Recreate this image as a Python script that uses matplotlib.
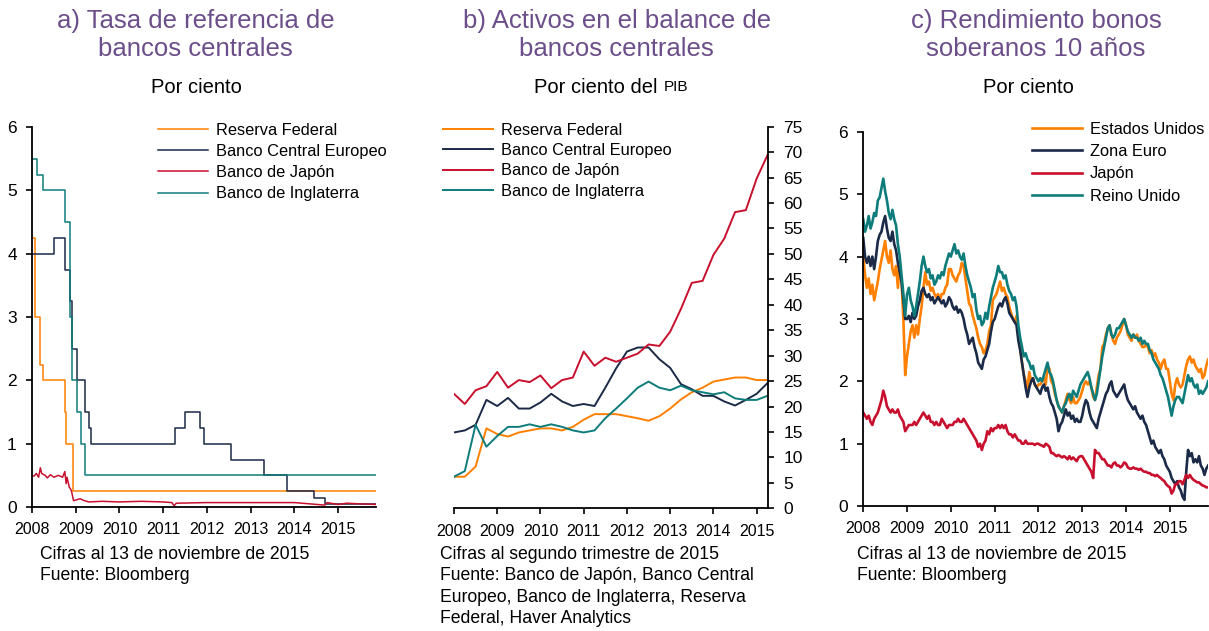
import numpy as np
import matplotlib
matplotlib.use('Agg')
import matplotlib.pyplot as plt

plt.rcParams['font.family'] = ['Liberation Sans', 'DejaVu Sans']

NARANJA = '#FF8000'
AZUL = '#1B2A47'
ROJO = '#C8102E'
VERDE = '#0E7C7B'
MORADO = '#6B4E8A'

# a) tasas de referencia (cambios de nivel, fecha decimal)
fed_t = [2008.0, 2008.06, 2008.18, 2008.25, 2008.76, 2008.78, 2008.93, 2015.87]
fed_v = [4.25, 3.0, 2.25, 2.0, 1.5, 1.0, 0.25, 0.25]
bce_t = [2008.0, 2008.5, 2008.76, 2008.86, 2008.92, 2009.02, 2009.21, 2009.3, 2009.34,
         2011.28, 2011.51, 2011.84, 2011.93, 2012.55, 2013.3, 2013.37, 2013.84,
         2014.44, 2014.71, 2015.87]
bce_v = [4.0, 4.25, 3.75, 3.25, 2.5, 2.0, 1.5, 1.25, 1.0,
         1.25, 1.5, 1.25, 1.0, 0.75, 0.5, 0.5, 0.25,
         0.15, 0.05, 0.05]
boe_t = [2008.0, 2008.12, 2008.25, 2008.76, 2008.86, 2008.92, 2009.02, 2009.12, 2009.21, 2015.87]
boe_v = [5.5, 5.25, 5.0, 4.5, 3.0, 2.0, 1.5, 1.0, 0.5, 0.5]
boj_t = [2008.0, 2008.05, 2008.1, 2008.15, 2008.19, 2008.22, 2008.3, 2008.35, 2008.42,
         2008.5, 2008.6, 2008.7, 2008.75, 2008.78, 2008.8, 2008.85, 2008.9, 2008.95,
         2009.1, 2009.2, 2009.3, 2009.6, 2010.0, 2010.5, 2011.0, 2011.2, 2011.25,
         2011.3, 2012.0, 2013.0, 2014.0, 2014.7, 2014.75, 2015.0, 2015.2, 2015.5, 2015.87]
boj_v = [0.49, 0.49, 0.53, 0.47, 0.62, 0.53, 0.5, 0.46, 0.51,
         0.47, 0.5, 0.47, 0.56, 0.37, 0.47, 0.32, 0.26, 0.1,
         0.13, 0.1, 0.08, 0.09, 0.08, 0.09, 0.08, 0.07, 0.02,
         0.06, 0.07, 0.07, 0.07, 0.03, 0.07, 0.04, 0.06, 0.05, 0.04]

# b) activos, trimestral 2008T1 - 2015T2
trimestres = 2008 + np.arange(30) / 4
jap_b = [22.5, 20.5, 23.2, 24.0, 26.8, 23.7, 25.2, 24.8, 26.1, 23.6,
         25.2, 25.7, 30.8, 28.0, 29.6, 28.8, 29.6, 30.4, 32.2, 31.9,
         34.7, 39.2, 44.3, 44.7, 49.8, 53.0, 58.2, 58.6, 64.8, 69.4]
bce_b = [14.9, 15.3, 16.4, 21.3, 20.1, 21.7, 19.6, 19.6, 20.8, 22.5,
         21.0, 20.1, 20.5, 20.1, 23.7, 27.5, 30.8, 31.6, 31.6, 29.3,
         27.6, 24.4, 23.4, 22.1, 22.1, 21.0, 20.2, 21.3, 22.5, 24.6]
fed_b = [6.2, 6.2, 8.2, 15.7, 14.6, 14.1, 14.9, 15.3, 15.7, 15.7,
         15.3, 16.0, 17.4, 18.5, 18.5, 18.5, 18.1, 17.7, 17.2, 18.1,
         19.6, 21.4, 22.8, 23.7, 24.9, 25.3, 25.7, 25.7, 25.2, 25.2]
boe_b = [6.2, 7.3, 16.4, 12.1, 14.2, 16.0, 16.0, 16.5, 16.0, 16.5,
         16.0, 15.3, 14.9, 15.3, 17.7, 19.6, 21.6, 23.7, 24.9, 23.7,
         23.2, 24.1, 23.2, 22.8, 22.4, 22.8, 21.6, 21.3, 21.3, 22.1]

# c) bonos a 10 años, valores cada medio mes desde ene-2008
quincenas = 2008 + np.arange(190) / 24
eeuu_c = [4.0, 3.7, 3.5, 3.65, 3.4, 3.55, 3.3, 3.45, 3.6, 3.8, 3.95, 4.1,
          4.25, 4.0, 3.9, 4.1, 3.8, 3.7, 3.85, 3.5, 3.9, 3.6, 3.0, 2.1,
          2.4, 2.6, 2.8, 2.9, 2.7, 2.9, 2.75, 3.0, 3.2, 3.5, 3.75, 3.55,
          3.6, 3.45, 3.5, 3.4, 3.35, 3.4, 3.3, 3.4, 3.4, 3.5, 3.55, 3.8,
          3.8, 3.7, 3.65, 3.6, 3.7, 3.75, 3.9, 3.85, 3.65, 3.45, 3.25, 3.2,
          3.05, 2.95, 2.85, 2.7, 2.6, 2.55, 2.45, 2.5, 2.6, 2.8, 2.9, 3.3,
          3.35, 3.4, 3.5, 3.6, 3.45, 3.5, 3.4, 3.35, 3.2, 3.1, 3.0, 2.95,
          3.05, 2.8, 2.55, 2.3, 2.1, 2.0, 1.9, 2.15, 2.0, 2.05, 1.95, 1.9,
          1.95, 1.95, 2.0, 2.05, 1.95, 2.25, 2.2, 2.0, 1.95, 1.8, 1.7, 1.6,
          1.55, 1.5, 1.6, 1.7, 1.8, 1.7, 1.65, 1.75, 1.65, 1.65, 1.7, 1.75,
          1.85, 1.95, 2.0, 1.95, 2.0, 1.9, 1.75, 1.7, 1.9, 2.1, 2.2, 2.55,
          2.6, 2.75, 2.85, 2.9, 2.75, 2.65, 2.6, 2.7, 2.75, 2.8, 2.9, 3.0,
          2.9, 2.75, 2.7, 2.65, 2.75, 2.7, 2.75, 2.65, 2.6, 2.55, 2.55, 2.6,
          2.55, 2.45, 2.5, 2.4, 2.45, 2.35, 2.3, 2.2, 2.3, 2.35, 2.2, 2.2,
          2.0, 1.8, 1.7, 1.95, 2.05, 1.95, 1.9, 1.95, 2.1, 2.25, 2.35, 2.4,
          2.3, 2.35, 2.25, 2.2, 2.15, 2.2, 2.05, 2.1, 2.25, 2.35]
euro_c = [4.3, 4.0, 3.9, 4.0, 3.85, 4.0, 3.8, 4.0, 4.25, 4.35, 4.4, 4.55,
          4.65, 4.45, 4.3, 4.25, 4.4, 4.2, 4.1, 3.9, 3.75, 3.6, 3.3, 3.0,
          3.0, 3.05, 2.95, 3.1, 3.0, 3.05, 3.2, 3.3, 3.45, 3.5, 3.4, 3.35,
          3.4, 3.3, 3.35, 3.25, 3.3, 3.35, 3.3, 3.25, 3.3, 3.2, 3.25, 3.35,
          3.3, 3.2, 3.15, 3.2, 3.1, 3.15, 3.1, 3.0, 2.85, 2.75, 2.6, 2.65,
          2.7, 2.55, 2.45, 2.3, 2.25, 2.2, 2.35, 2.4, 2.5, 2.6, 2.8, 2.95,
          3.0, 3.1, 3.2, 3.25, 3.2, 3.3, 3.35, 3.25, 3.1, 3.05, 3.0, 2.95,
          2.9, 2.65, 2.5, 2.3, 2.1, 1.9, 1.75, 1.9, 2.0, 2.05, 1.95, 1.9,
          1.85, 1.8, 1.9, 1.95, 1.85, 1.9, 1.75, 1.65, 1.6, 1.5, 1.4, 1.2,
          1.3, 1.35, 1.45, 1.55, 1.45, 1.5, 1.4, 1.45, 1.35, 1.4, 1.35, 1.35,
          1.45, 1.6, 1.7, 1.65, 1.5, 1.4, 1.35, 1.3, 1.25, 1.4, 1.5, 1.6,
          1.7, 1.8, 1.85, 1.95, 2.0, 1.85, 1.8, 1.75, 1.8, 1.85, 1.9, 1.95,
          1.8, 1.7, 1.65, 1.6, 1.55, 1.6, 1.5, 1.45, 1.4, 1.45, 1.35, 1.3,
          1.2, 1.1, 1.0, 1.05, 0.95, 0.9, 0.85, 0.9, 0.8, 0.75, 0.65, 0.6,
          0.55, 0.45, 0.4, 0.35, 0.4, 0.3, 0.25, 0.15, 0.1, 0.55, 0.9, 0.8,
          0.85, 0.7, 0.75, 0.7, 0.8, 0.65, 0.6, 0.5, 0.6, 0.65]
japon_c = [1.5, 1.45, 1.4, 1.45, 1.35, 1.3, 1.4, 1.45, 1.5, 1.6, 1.7, 1.85,
           1.75, 1.6, 1.55, 1.5, 1.55, 1.5, 1.5, 1.55, 1.45, 1.4, 1.35, 1.2,
           1.25, 1.3, 1.3, 1.3, 1.35, 1.3, 1.35, 1.4, 1.45, 1.5, 1.45, 1.4,
           1.45, 1.35, 1.35, 1.3, 1.35, 1.3, 1.3, 1.4, 1.35, 1.3, 1.25, 1.3,
           1.3, 1.3, 1.35, 1.35, 1.4, 1.35, 1.35, 1.4, 1.35, 1.3, 1.25, 1.2,
           1.15, 1.1, 1.05, 0.95, 1.0, 0.9, 1.0, 1.05, 1.2, 1.15, 1.25, 1.2,
           1.25, 1.25, 1.3, 1.25, 1.3, 1.25, 1.3, 1.2, 1.15, 1.15, 1.1, 1.15,
           1.1, 1.05, 1.05, 1.0, 1.0, 1.05, 1.0, 1.0, 1.0, 1.0, 0.98, 1.0,
           1.0, 0.98, 0.97, 0.95, 1.0, 0.98, 0.95, 0.85, 0.85, 0.82, 0.8, 0.82,
           0.8, 0.78, 0.8, 0.78, 0.75, 0.8, 0.75, 0.78, 0.75, 0.72, 0.78, 0.8,
           0.8, 0.75, 0.7, 0.65, 0.6, 0.55, 0.45, 0.9, 0.85, 0.85, 0.8, 0.75,
           0.75, 0.7, 0.65, 0.65, 0.62, 0.68, 0.7, 0.65, 0.65, 0.62, 0.65, 0.7,
           0.68, 0.62, 0.6, 0.6, 0.62, 0.6, 0.6, 0.58, 0.6, 0.57, 0.55, 0.55,
           0.53, 0.53, 0.5, 0.5, 0.48, 0.5, 0.47, 0.45, 0.42, 0.4, 0.35, 0.32,
           0.3, 0.2, 0.25, 0.35, 0.35, 0.4, 0.4, 0.35, 0.42, 0.5, 0.45, 0.5,
           0.45, 0.42, 0.4, 0.38, 0.38, 0.35, 0.33, 0.32, 0.3, 0.3]
ru_c = [4.6, 4.4, 4.5, 4.65, 4.45, 4.55, 4.7, 4.65, 4.9, 4.95, 5.1, 5.25,
        5.05, 4.9, 4.7, 4.6, 4.75, 4.6, 4.5, 4.2, 4.0, 3.7, 3.4, 3.05,
        3.4, 3.5, 3.3, 3.2, 3.05, 3.2, 3.4, 3.6, 3.85, 4.0, 3.85, 3.75,
        3.8, 3.65, 3.7, 3.55, 3.6, 3.7, 3.65, 3.75, 3.7, 3.85, 3.95, 4.05,
        4.0, 4.1, 4.2, 4.05, 4.1, 4.0, 3.95, 4.05, 3.85, 3.7, 3.6, 3.5,
        3.35, 3.4, 3.15, 3.0, 3.05, 2.9, 2.95, 3.1, 3.0, 3.2, 3.35, 3.5,
        3.6, 3.7, 3.85, 3.75, 3.75, 3.65, 3.7, 3.55, 3.45, 3.4, 3.3, 3.35,
        3.2, 2.9, 2.7, 2.55, 2.4, 2.45, 2.35, 2.3, 2.2, 2.25, 2.1, 2.05,
        2.0, 2.05, 2.0, 2.1, 2.2, 2.3, 2.15, 2.1, 2.0, 1.85, 1.7, 1.6,
        1.55, 1.5, 1.6, 1.65, 1.75, 1.8, 1.7, 1.85, 1.8, 1.75, 1.85, 1.95,
        2.0, 2.05, 2.1, 2.15, 2.05, 1.9, 1.8, 1.7, 1.8, 2.0, 2.2, 2.4,
        2.55, 2.7, 2.85, 2.9, 2.75, 2.7, 2.75, 2.85, 2.85, 2.9, 2.95, 3.0,
        2.9, 2.8, 2.75, 2.7, 2.75, 2.7, 2.7, 2.65, 2.7, 2.6, 2.65, 2.6,
        2.6, 2.5, 2.45, 2.35, 2.3, 2.25, 2.2, 2.1, 2.05, 1.95, 1.85, 1.75,
        1.6, 1.45, 1.6, 1.7, 1.75, 1.75, 1.7, 1.65, 1.8, 1.95, 2.1, 2.0,
        2.05, 1.95, 1.9, 1.95, 1.8, 1.85, 1.8, 1.85, 1.9, 2.0]

anios = list(range(2008, 2016))

fig = plt.figure(figsize=(12.09, 6.31), dpi=100)


def estilo(ax, derecha=False):
    for s in ['top', 'right', 'left', 'bottom']:
        ax.spines[s].set_visible(False)
    ax.spines['bottom'].set_visible(True)
    ax.spines['right' if derecha else 'left'].set_visible(True)
    for s in ax.spines.values():
        s.set_linewidth(1.3)
    ax.set_xticks(anios)
    ax.set_xticklabels([str(a) for a in anios])
    ax.tick_params(axis='both', direction='out', length=4, width=1.2, colors='black')
    ax.tick_params(axis='x', labelsize=11.5, pad=7)
    ax.tick_params(axis='y', labelsize=12.5, pad=7)
    if derecha:
        ax.yaxis.tick_right()


ley = dict(loc='upper left', frameon=False, fontsize=11.8, handlelength=3.05,
           handletextpad=0.5, borderaxespad=0)

# panel a
ax1 = fig.add_axes([0.0265, 0.1965, 0.2845, 0.602])
ax1.step(fed_t, fed_v, where='post', color=NARANJA, lw=1.1, label='Reserva Federal')
ax1.step(bce_t, bce_v, where='post', color=AZUL, lw=1.1, label='Banco Central Europeo')
ax1.plot(boj_t, boj_v, color=ROJO, lw=1.1, label='Banco de Japón')
ax1.step(boe_t, boe_v, where='post', color=VERDE, lw=1.1, label='Banco de Inglaterra')
ax1.set_xlim(2008, 2015.87)
ax1.set_ylim(0, 6)
estilo(ax1)
ax1.legend(bbox_to_anchor=(0.347, 1.029), labelspacing=0.38, **ley)

# panel b
ax2 = fig.add_axes([0.3755, 0.1945, 0.26, 0.6047])
ax2.plot(trimestres, fed_b, color=NARANJA, lw=1.4, label='Reserva Federal')
ax2.plot(trimestres, bce_b, color=AZUL, lw=1.4, label='Banco Central Europeo')
ax2.plot(trimestres, jap_b, color=ROJO, lw=1.4, label='Banco de Japón')
ax2.plot(trimestres, boe_b, color=VERDE, lw=1.4, label='Banco de Inglaterra')
ax2.set_xlim(2008, 2015.27)
ax2.set_ylim(0, 75)
estilo(ax2, derecha=True)
ax2.set_yticks(range(0, 80, 5))
ax2.legend(bbox_to_anchor=(-0.056, 1.0275), labelspacing=0.32, **ley)

# panel c
ax3 = fig.add_axes([0.714, 0.198, 0.2851, 0.593])
ax3.plot(quincenas, eeuu_c, color=NARANJA, lw=1.9, label='Estados Unidos')
ax3.plot(quincenas, euro_c, color=AZUL, lw=1.9, label='Zona Euro')
ax3.plot(quincenas, japon_c, color=ROJO, lw=1.9, label='Japón')
ax3.plot(quincenas, ru_c, color=VERDE, lw=1.9, label='Reino Unido')
ax3.set_xlim(2008, 2015.87)
ax3.set_ylim(0, 6)
estilo(ax3)
ax3.legend(bbox_to_anchor=(0.47, 1.044), labelspacing=0.44, **ley)

# titulos
titulos = [(0.162, 'a) Tasa de referencia de\nbancos centrales'),
           (0.510, 'b) Activos en el balance de\nbancos centrales'),
           (0.857, 'c) Rendimiento bonos\nsoberanos 10 años')]
for x, t in titulos:
    fig.text(x, 0.9445, t, ha='center', va='center', fontsize=18.5, color=MORADO,
             linespacing=1.25)
fig.text(0.1625, 0.862, 'Por ciento', ha='center', va='center', fontsize=14.5)
fig.text(0.5487, 0.862, 'Por ciento del ', ha='right', va='center', fontsize=14.5)
fig.text(0.5487, 0.862, 'PIB', ha='left', va='center', fontsize=11)
fig.text(0.851, 0.862, 'Por ciento', ha='center', va='center', fontsize=14.5)

# notas
notas = [(0.033, 'Cifras al 13 de noviembre de 2015\nFuente: Bloomberg'),
         (0.364, 'Cifras al segundo trimestre de 2015\nFuente: Banco de Japón, Banco Central\n'
                 'Europeo, Banco de Inglaterra, Reserva\nFederal, Haver Analytics'),
         (0.709, 'Cifras al 13 de noviembre de 2015\nFuente: Bloomberg')]
for x, t in notas:
    fig.text(x, 0.135, t, ha='left', va='top', fontsize=12.7, linespacing=1.35)

fig.savefig('out.png', dpi=100)
